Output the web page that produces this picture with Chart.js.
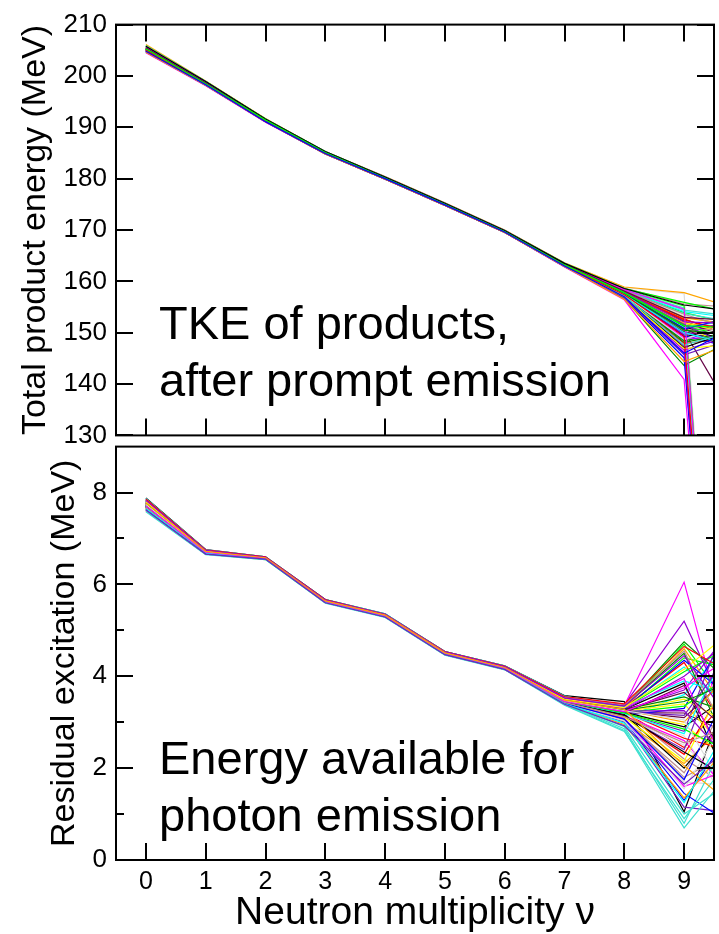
<!DOCTYPE html>
<html>
<head>
<meta charset="utf-8">
<script src="https://cdn.jsdelivr.net/npm/chart.js@4.4.1/dist/chart.umd.min.js"></script>
<style>
html,body{margin:0;padding:0;background:#fff;}
body{width:719px;height:934px;position:relative;overflow:hidden;}
canvas{position:absolute;left:0;}
#topChart{top:0;}
#botChart{top:422px;}
</style>
</head>
<body>
<canvas id="topChart" width="716" height="460"></canvas>
<canvas id="botChart" width="716" height="512"></canvas>
<script>
// ---------- data ----------
const nu = [0,1,2,3,4,5,6,7,8,9,10];
const xTickValues = [0,1,2,3,4,5,6,7,8,9];
const topYTicks = [130,140,150,160,170,180,190,200,210];
const botYMajor = [0,2,4,6,8];
const botYMinor = [1,3,5,7];

const topTitle = 'Total product energy (MeV)';
const botTitle = 'Residual excitation (MeV)';
const xTitle = 'Neutron multiplicity \u03bd';
const topNote = ['TKE of products,', 'after prompt emission'];
const botNote = ['Energy available for', 'photon emission'];

// Grace default colour cycle
const palette = ['#000000','#ff0000','#00ff00','#0000ff','#ffff00','#bc8f8f','#dcdcdc',
                 '#9400d3','#00ffff','#ff00ff','#ffa500','#7221bc','#670748','#40e0d0','#008b00'];

// Total product energy (MeV) vs nu, one list per ensemble member
const tkeSeries = [
 [205.0,198.4,191.2,185.0,180.1,175.0,169.7,163.1,157.4,150.1,148.2],
 [205.4,198.6,191.4,185.1,180.2,175.1,169.8,163.3,157.9,151.8,150.5],
 [205.7,198.8,191.5,185.2,180.3,175.2,169.9,163.4,158.3,153.9,151.2],
 [204.9,198.3,191.2,184.9,180.0,174.9,169.6,163.0,157.1,148.6,152.0],
 [205.3,198.5,191.3,185.0,180.1,175.0,169.7,163.2,157.6,150.9,146.8],
 [205.8,198.9,191.6,185.3,180.3,175.2,169.9,163.5,158.7,155.6,154.8],
 [206.0,199.0,191.6,185.3,180.4,175.3,170.0,163.6,158.8,157.6,0],
 [205.1,198.4,191.3,185.0,180.1,175.0,169.7,163.1,157.5,149.6,151.4],
 [205.5,198.6,191.4,185.1,180.2,175.1,169.8,163.3,158.0,152.4,0],
 [204.8,198.3,191.1,184.9,180.0,174.9,169.6,163.0,156.9,146.2,0],
 [206.1,199.0,191.7,185.3,180.4,175.3,170.0,163.6,158.9,157.8,154.2],
 [205.2,198.5,191.3,185.0,180.1,175.0,169.7,163.2,157.7,151.5,149.6],
 [205.0,198.4,191.3,185.0,180.1,175.0,169.7,163.1,157.5,150.3,130.5],
 [205.6,198.7,191.5,185.2,180.2,175.1,169.8,163.4,158.4,154.8,0],
 [204.7,198.2,191.1,184.8,179.9,174.8,169.5,162.9,156.6,143.6,149.8],
 [205.1,198.4,191.3,185.0,180.1,175.0,169.7,163.1,157.6,149.2,151.6],
 [205.3,198.5,191.4,185.1,180.1,175.0,169.7,163.2,157.8,152.7,148.4],
 [205.9,198.9,191.6,185.2,180.3,175.2,169.9,163.5,158.5,155.2,0],
 [204.6,198.2,191.1,184.8,179.9,174.8,169.5,162.9,156.7,145.1,0],
 [205.4,198.6,191.4,185.1,180.2,175.1,169.8,163.3,158.1,153.1,150.9],
 [205.2,198.5,191.3,185.0,180.1,175.0,169.7,163.2,157.7,150.6,152.3],
 [205.0,198.4,191.2,184.9,180.0,174.9,169.6,163.0,157.3,148.9,147.5],
 [204.9,198.3,191.2,184.9,180.0,174.9,169.6,163.0,157.2,147.4,0],
 [205.6,198.7,191.5,185.2,180.2,175.1,169.8,163.4,158.3,154.1,152.6],
 [204.5,198.1,191.0,184.8,179.9,174.8,169.5,162.8,156.4,140.9,0],
 [205.3,198.5,191.3,185.0,180.1,175.0,169.7,163.2,157.8,151.9,150.2],
 [205.1,198.4,191.3,185.0,180.1,175.0,169.7,163.1,157.5,149.9,153.1],
 [205.5,198.6,191.4,185.1,180.2,175.1,169.8,163.3,158.0,152.2,147.9],
 [205.7,198.8,191.5,185.2,180.3,175.2,169.9,163.4,158.2,153.7,151.8],
 [205.0,198.4,191.2,184.9,180.0,174.9,169.6,163.1,157.3,148.4,150.7],
 [205.2,198.5,191.3,185.0,180.1,175.0,169.7,163.2,157.7,151.2,147.2],
 [204.9,198.3,191.2,184.9,180.0,174.9,169.6,163.0,157.1,147.9,149.3],
 [205.8,198.9,191.6,185.3,180.3,175.2,169.9,163.5,158.6,155.9,153.4],
 [205.1,198.4,191.3,185.0,180.1,175.0,169.7,163.1,157.4,149.4,146.5],
 [205.4,198.6,191.4,185.1,180.2,175.1,169.8,163.3,157.9,152.0,149.1],
 [205.3,198.5,191.3,185.0,180.1,175.0,169.7,163.2,157.6,150.4,151.0],
 [205.6,198.7,191.5,185.1,180.2,175.1,169.8,163.4,158.1,153.3,150.6],
 [204.8,198.3,191.1,184.9,180.0,174.9,169.6,163.0,156.9,146.6,150.0],
 [205.2,198.5,191.3,185.0,180.1,175.0,169.7,163.2,157.8,151.0,152.8],
 [205.0,198.4,191.2,185.0,180.1,175.0,169.7,163.1,157.4,149.0,148.9],
 [205.5,198.6,191.4,185.1,180.2,175.1,169.8,163.3,158.0,152.9,151.3],
 [204.7,198.2,191.1,184.8,179.9,174.8,169.5,162.9,156.8,145.7,149.5],
 [205.3,198.5,191.4,185.0,180.1,175.0,169.7,163.2,157.7,150.8,145.6],
 [205.9,198.9,191.6,185.3,180.3,175.2,169.9,163.5,158.5,154.4,152.9],
 [205.1,198.4,191.3,185.0,180.1,175.0,169.7,163.1,157.5,148.1,150.4],
 [204.9,198.3,191.2,184.9,180.0,174.9,169.6,163.0,157.2,147.1,151.1],
 [205.4,198.6,191.4,185.1,180.2,175.1,169.8,163.3,157.9,152.5,149.7],
 [205.2,198.5,191.3,185.0,180.1,175.0,169.7,163.2,157.7,151.3,148.6],
 [205.2,198.5,191.3,185.0,180.1,175.0,169.7,163.2,157.6,150.7,153.6],
 [204.8,198.3,191.2,184.9,180.0,174.9,169.6,163.0,157.0,146.9,148.0],
 [205.6,198.7,191.5,185.2,180.2,175.1,169.8,163.4,158.2,153.6,149.9],
 [205.0,198.4,191.2,185.0,180.1,175.0,169.7,163.1,157.3,148.7,152.4],
 [205.4,198.6,191.4,185.1,180.2,175.1,169.8,163.3,157.9,152.1,151.7],
 [205.1,198.4,191.3,185.0,180.1,175.0,169.7,163.1,157.5,150.0,147.0],
 [205.7,198.8,191.5,185.2,180.3,175.2,169.9,163.4,158.4,154.6,0],
 [204.6,198.2,191.1,184.8,179.9,174.8,169.5,162.9,156.5,144.4,148.7],
 [205.3,198.5,191.3,185.0,180.1,175.0,169.7,163.2,157.8,151.6,146.2],
 [205.5,198.6,191.4,185.1,180.2,175.1,169.8,163.3,158.1,153.0,152.2],
 [204.9,198.3,191.2,184.9,180.0,174.9,169.6,163.0,157.2,147.6,150.9],
 [205.2,198.5,191.3,185.0,180.1,175.0,169.7,163.2,157.7,150.5,149.2],
 [205.8,198.9,191.6,185.3,180.3,175.2,169.9,163.5,158.6,155.4,153.9],
 [205.0,198.4,191.2,184.9,180.0,174.9,169.6,163.1,157.4,149.3,0],
 [205.3,198.5,191.4,185.1,180.1,175.0,169.7,163.2,157.8,151.4,150.8],
 [204.8,198.3,191.1,184.9,180.0,174.9,169.6,163.0,157.0,146.0,151.9]
];

// Residual excitation (MeV) vs nu, one list per ensemble member
const excSeries = [
 [7.88,6.76,6.60,5.67,5.36,4.54,4.23,3.58,3.45,1.05,4.6],
 [7.75,6.71,6.58,5.64,5.33,4.51,4.19,3.47,3.22,2.45,3.9],
 [7.82,6.74,6.59,5.66,5.35,4.53,4.21,3.52,3.30,4.70,2.9],
 [7.70,6.69,6.56,5.62,5.31,4.49,4.17,3.44,3.05,1.30,3.2],
 [7.66,6.68,6.56,5.62,5.31,4.49,4.17,3.43,3.18,2.95,1.9],
 [7.78,6.72,6.58,5.64,5.33,4.51,4.19,3.48,3.25,2.20,1.4],
 [7.73,6.70,6.57,5.63,5.32,4.50,4.18,3.46,3.20,1.70,1.6],
 [7.85,6.75,6.59,5.66,5.35,4.53,4.22,3.55,3.38,5.20,2.4],
 [7.62,6.67,6.55,5.61,5.30,4.48,4.16,3.41,3.10,3.60,5.1],
 [7.76,6.71,6.57,5.64,5.32,4.50,4.18,3.47,3.36,6.05,1.2],
 [7.60,6.66,6.54,5.60,5.29,4.47,4.15,3.40,3.02,2.10,3.3],
 [7.68,6.69,6.56,5.62,5.31,4.49,4.17,3.44,3.00,1.15,1.0],
 [7.74,6.70,6.57,5.63,5.32,4.50,4.18,3.46,3.21,3.20,2.6],
 [7.64,6.67,6.55,5.61,5.30,4.48,4.16,3.38,2.82,0.70,2.3],
 [7.80,6.73,6.58,5.65,5.34,4.52,4.20,3.50,3.34,4.75,3.6],
 [7.71,6.70,6.57,5.63,5.32,4.50,4.18,3.45,3.28,3.85,0.9],
 [7.83,6.74,6.59,5.66,5.35,4.53,4.21,3.53,3.32,4.30,2.2],
 [7.69,6.69,6.56,5.62,5.31,4.49,4.17,3.44,3.27,4.40,4.1],
 [7.77,6.72,6.58,5.64,5.33,4.51,4.19,3.48,3.15,3.30,5.6],
 [7.72,6.70,6.57,5.63,5.32,4.50,4.18,3.46,3.24,3.40,2.0],
 [7.63,6.67,6.55,5.61,5.30,4.48,4.16,3.41,3.08,1.80,2.5],
 [7.79,6.72,6.58,5.65,5.33,4.51,4.20,3.49,3.12,2.50,1.3],
 [7.67,6.68,6.56,5.62,5.31,4.49,4.17,3.43,3.26,3.70,5.4],
 [7.86,6.75,6.60,5.67,5.35,4.54,4.22,3.56,3.29,4.20,3.0],
 [7.61,6.66,6.55,5.60,5.29,4.47,4.15,3.40,3.14,2.60,1.1],
 [7.74,6.71,6.57,5.64,5.32,4.50,4.18,3.47,3.31,4.60,2.7],
 [7.70,6.69,6.56,5.63,5.31,4.49,4.17,3.45,3.19,2.80,6.2],
 [7.81,6.73,6.59,5.65,5.34,4.52,4.20,3.51,3.23,3.10,4.3],
 [7.65,6.68,6.55,5.61,5.30,4.48,4.16,3.39,2.86,0.80,3.4],
 [7.84,6.74,6.59,5.66,5.35,4.53,4.21,3.54,3.35,4.50,1.7],
 [7.72,6.70,6.57,5.63,5.32,4.50,4.18,3.46,3.22,2.90,3.8],
 [7.66,6.68,6.56,5.62,5.31,4.49,4.17,3.42,3.16,2.30,4.5],
 [7.78,6.72,6.58,5.64,5.33,4.51,4.19,3.48,3.30,4.10,4.8],
 [7.69,6.69,6.56,5.62,5.31,4.49,4.17,3.44,3.06,1.45,0.6],
 [7.75,6.71,6.57,5.64,5.32,4.50,4.18,3.47,3.25,3.50,2.8],
 [7.62,6.66,6.55,5.60,5.29,4.47,4.15,3.40,3.04,1.90,4.0],
 [7.80,6.73,6.58,5.65,5.34,4.52,4.20,3.50,3.18,2.70,0.7],
 [7.71,6.70,6.57,5.63,5.32,4.50,4.18,3.45,3.27,4.00,5.0],
 [7.87,6.75,6.60,5.67,5.36,4.54,4.23,3.57,3.33,3.90,3.5],
 [7.64,6.67,6.55,5.61,5.30,4.48,4.16,3.41,3.09,1.60,2.1],
 [7.76,6.72,6.58,5.64,5.33,4.51,4.19,3.48,3.26,3.00,4.4],
 [7.68,6.69,6.56,5.62,5.31,4.49,4.17,3.43,3.13,2.40,5.8],
 [7.73,6.70,6.57,5.63,5.32,4.50,4.18,3.46,3.20,3.80,1.5],
 [7.58,6.65,6.54,5.59,5.28,4.46,4.14,3.37,2.80,0.90,2.6],
 [7.82,6.74,6.59,5.66,5.34,4.52,4.21,3.52,3.28,3.55,3.1],
 [7.70,6.69,6.56,5.62,5.31,4.49,4.17,3.44,3.17,2.00,3.6],
 [7.77,6.72,6.58,5.64,5.33,4.51,4.19,3.48,3.23,2.65,2.3],
 [7.74,6.71,6.57,5.63,5.32,4.50,4.18,3.46,3.21,3.35,4.2],
 [7.79,6.73,6.58,5.65,5.34,4.52,4.20,3.49,3.29,4.35,3.3],
 [7.67,6.68,6.56,5.62,5.31,4.49,4.17,3.43,3.11,2.15,4.7],
 [7.84,6.74,6.59,5.66,5.35,4.53,4.21,3.54,3.37,4.55,2.0],
 [7.63,6.67,6.55,5.61,5.30,4.48,4.16,3.40,3.03,1.55,3.7],
 [7.75,6.71,6.57,5.64,5.32,4.50,4.18,3.47,3.24,3.25,1.8],
 [7.70,6.69,6.56,5.62,5.31,4.49,4.17,3.44,3.19,2.75,5.3],
 [7.81,6.73,6.59,5.65,5.34,4.52,4.20,3.51,3.31,3.95,1.2],
 [7.66,6.68,6.55,5.61,5.30,4.48,4.16,3.41,2.95,1.35,2.9],
 [7.73,6.70,6.57,5.63,5.32,4.50,4.18,3.46,3.22,3.15,4.9],
 [7.78,6.72,6.58,5.64,5.33,4.51,4.19,3.48,3.27,3.65,2.5],
 [7.61,6.66,6.54,5.60,5.29,4.47,4.15,3.39,2.90,1.00,1.9],
 [7.76,6.72,6.58,5.64,5.33,4.51,4.19,3.48,3.26,3.45,4.0],
 [7.69,6.69,6.56,5.62,5.31,4.49,4.17,3.44,3.14,2.35,1.6],
 [7.86,6.75,6.60,5.67,5.35,4.54,4.22,3.56,3.40,4.65,3.9],
 [7.72,6.70,6.57,5.63,5.32,4.50,4.18,3.46,3.20,2.85,2.2],
 [7.64,6.67,6.55,5.61,5.30,4.48,4.16,3.41,3.07,1.75,4.4],
 [7.80,6.73,6.58,5.65,5.34,4.52,4.20,3.50,3.32,4.15,5.2],
 [7.68,6.69,6.56,5.62,5.31,4.49,4.17,3.43,3.12,2.55,3.0],
 [7.74,6.71,6.57,5.64,5.32,4.50,4.18,3.47,3.25,3.05,0.8],
 [7.83,6.74,6.59,5.66,5.35,4.53,4.21,3.53,3.35,4.45,2.6],
 [7.65,6.68,6.55,5.61,5.30,4.48,4.16,3.40,2.98,1.25,3.5],
 [7.71,6.70,6.57,5.63,5.32,4.50,4.18,3.45,3.23,3.75,4.6],
 [7.77,6.72,6.58,5.64,5.33,4.51,4.19,3.48,3.28,2.05,1.0],
 [7.62,6.66,6.55,5.60,5.29,4.47,4.15,3.39,2.92,1.65,2.7]
];

// ---------- rendering ----------
const FONT = '"Liberation Sans", Arial, Helvetica, sans-serif';
Chart.defaults.font.family = FONT;
Chart.defaults.color = '#000';

function makeDatasets(series) {
  return series.map((s, i) => ({
    data: nu.map((x, k) => ({x: x, y: s[k]})),
    borderColor: palette[i % palette.length],
    borderWidth: 1.2,
    pointRadius: 0,
    fill: false,
    tension: 0,
    order: -i
  }));
}

const framePlugin = {
  id: 'frame',
  beforeDatasetsDraw(chart) {
    const {ctx, chartArea: a} = chart;
    ctx.save();
    ctx.beginPath();
    ctx.rect(a.left, a.top, a.right - a.left, a.bottom - a.top);
    ctx.clip();
  },
  afterDatasetsDraw(chart, args, o) {
    const {ctx, chartArea: a, scales} = chart;
    ctx.restore();
    const xs = scales.x, ys = scales.y;
    ctx.save();
    ctx.strokeStyle = '#000';
    ctx.lineWidth = 2;
    ctx.lineCap = 'butt';
    ctx.beginPath();
    for (const v of o.xTicks) {
      const px = Math.round(xs.getPixelForValue(v));
      if (o.topTicks) { ctx.moveTo(px, a.top); ctx.lineTo(px, a.top + o.major); }
      ctx.moveTo(px, a.bottom); ctx.lineTo(px, a.bottom - o.major);
    }
    for (const v of o.yMajor) {
      const py = Math.round(ys.getPixelForValue(v));
      ctx.moveTo(a.left, py); ctx.lineTo(a.left + o.major, py);
      ctx.moveTo(a.right, py); ctx.lineTo(a.right - o.major, py);
    }
    for (const v of o.yMinor) {
      const py = Math.round(ys.getPixelForValue(v));
      ctx.moveTo(a.left, py); ctx.lineTo(a.left + o.minor, py);
      ctx.moveTo(a.right, py); ctx.lineTo(a.right - o.minor, py);
    }
    ctx.stroke();
    ctx.strokeRect(a.left, a.top, a.right - a.left, a.bottom - a.top);
    ctx.fillStyle = '#000';
    ctx.font = o.noteSize + 'px ' + FONT;
    ctx.textAlign = 'left';
    ctx.textBaseline = 'alphabetic';
    o.note.forEach((t, k) => ctx.fillText(t, a.left + o.noteDx, a.top + o.noteDy + k * o.noteGap));
    ctx.restore();
  }
};

const commonPlugins = { legend: {display: false}, tooltip: {enabled: false} };
const noGrid = {display: false, drawTicks: false, tickLength: 0};

new Chart(document.getElementById('topChart'), {
  type: 'line',
  data: { datasets: makeDatasets(tkeSeries) },
  plugins: [framePlugin],
  options: {
    responsive: false, animation: false, devicePixelRatio: 1,
    layout: { padding: {left: 0, right: 2, top: 16, bottom: 22} },
    plugins: Object.assign({}, commonPlugins, {
      frame: { xTicks: xTickValues, topTicks: true, yMajor: topYTicks, yMinor: [], major: 17, minor: 8,
               note: topNote, noteSize: 47, noteDx: 43, noteDy: 314, noteGap: 57 }
    }),
    scales: {
      x: { type: 'linear', min: -0.5, max: 9.5, display: false },
      y: {
        type: 'linear', min: 130, max: 210,
        afterFit(s) { s.width = 116; },
        afterBuildTicks(s) { s.ticks = topYTicks.map(v => ({value: v})); },
        grid: noGrid, border: {display: false},
        ticks: { font: {size: 26}, color: '#000', padding: 9 },
        title: { display: true, text: topTitle, font: {size: 34}, color: '#000', padding: {top: 15, bottom: 0} }
      }
    }
  }
});

new Chart(document.getElementById('botChart'), {
  type: 'line',
  data: { datasets: makeDatasets(excSeries) },
  plugins: [framePlugin],
  options: {
    responsive: false, animation: false, devicePixelRatio: 1,
    layout: { padding: {left: 0, right: 2, top: 16, bottom: 0} },
    plugins: Object.assign({}, commonPlugins, {
      frame: { xTicks: xTickValues, topTicks: false, yMajor: botYMajor, yMinor: botYMinor, major: 17, minor: 8,
               note: botNote, noteSize: 47, noteDx: 43, noteDy: 327, noteGap: 57 }
    }),
    scales: {
      x: {
        type: 'linear', min: -0.5, max: 9.5,
        afterFit(s) { s.height = 74; },
        afterBuildTicks(s) { s.ticks = xTickValues.map(v => ({value: v})); },
        grid: noGrid, border: {display: false},
        ticks: { font: {size: 25}, color: '#000', padding: 7, autoSkip: false, maxRotation: 0 },
        title: { display: true, text: xTitle, font: {size: 39, lineHeight: 1}, color: '#000', padding: {top: 0, bottom: 1} }
      },
      y: {
        type: 'linear', min: 0, max: 9,
        afterFit(s) { s.width = 116; },
        afterBuildTicks(s) { s.ticks = botYMajor.map(v => ({value: v})); },
        grid: noGrid, border: {display: false},
        ticks: { font: {size: 26}, color: '#000', padding: 9 },
        title: { display: true, text: botTitle, font: {size: 34}, color: '#000', padding: {top: 44, bottom: 0} }
      }
    }
  }
});
</script>
</body>
</html>
